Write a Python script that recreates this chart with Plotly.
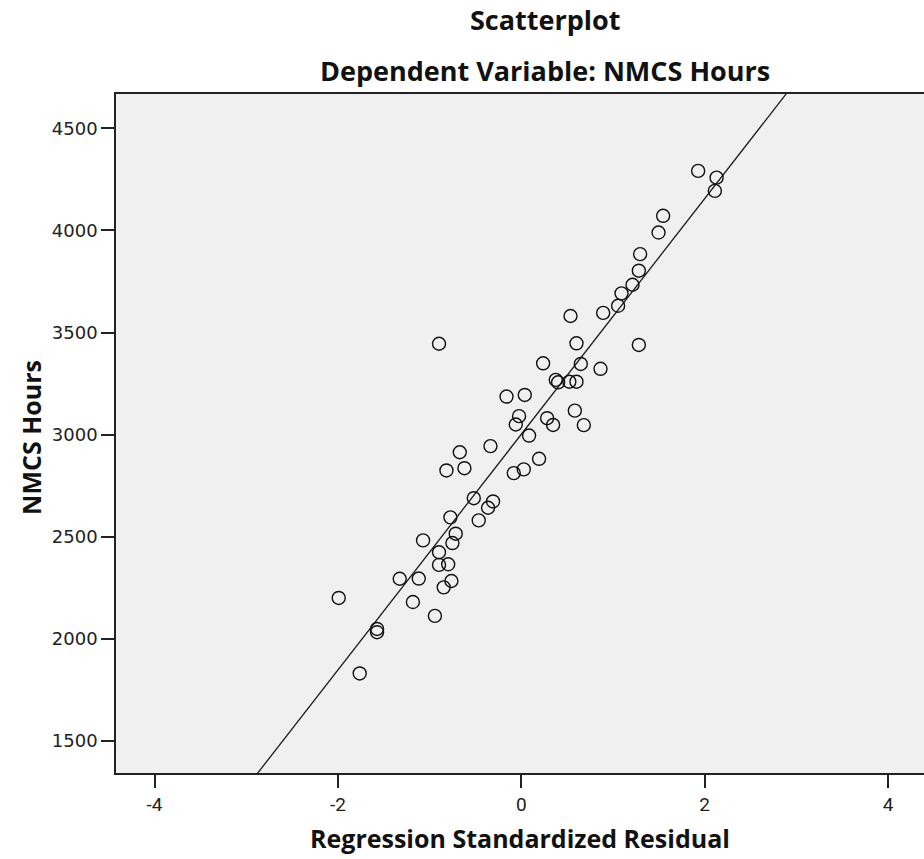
import plotly.graph_objects as go

# Regression standardized residual (x) and NMCS Hours (y)
std_residual = [
    1.929, 2.130, 2.111, 1.547, 1.497, 1.296, 1.282, 1.213, 1.093, 1.056,
    0.893, 0.537, -0.897, 0.602, 1.282, 0.238, 0.649, 0.864, 0.376, 0.402,
    0.524, 0.602, -0.161, 0.038, -0.024, -0.060, 0.282, 0.347, 0.584, 0.682,
    0.085, -0.336, -0.671, 0.194, -0.816, -0.620, -0.082, 0.027, -0.518, -0.308,
    -0.362, -0.773, -0.464, -1.071, -0.715, -0.751, -0.897, -0.897, -0.797, -1.326,
    -1.118, -0.762, -0.846, -1.991, -1.182, -0.942, -1.573, -1.573, -1.762,
]
nmcs_hours = [
    4292, 4259, 4194, 4072, 3990, 3884, 3803, 3734, 3692, 3631,
    3596, 3581, 3445, 3447, 3439, 3349, 3346, 3322, 3268, 3256,
    3259, 3259, 3186, 3194, 3090, 3049, 3080, 3047, 3117, 3046,
    2995, 2943, 2913, 2881, 2824, 2835, 2811, 2829, 2688, 2672,
    2641, 2594, 2579, 2481, 2514, 2468, 2423, 2361, 2364, 2293,
    2294, 2282, 2251, 2199, 2179, 2111, 2047, 2031, 1829,
]

# Fit line
fit_intercept = 3001.0
fit_slope = 577.6

x_range = [-4.42, 4.392]
y_range = [1341, 4669]
x_ticks = [-4, -2, 0, 2, 4]
y_ticks = [1500, 2000, 2500, 3000, 3500, 4000, 4500]

title_main = "Scatterplot"
title_sub = "Dependent Variable: NMCS Hours"
x_title = "Regression Standardized Residual"
y_title = "NMCS Hours"

fig = go.Figure()

line_x = [x_range[0] - 1, x_range[1] + 1]
line_y = [fit_intercept + fit_slope * v for v in line_x]
fig.add_trace(go.Scatter(
    x=line_x, y=line_y, mode="lines",
    line=dict(color="#1a1a1a", width=1.3),
    hoverinfo="skip", showlegend=False,
))

fig.add_trace(go.Scatter(
    x=std_residual, y=nmcs_hours, mode="markers",
    marker=dict(symbol="circle-open", size=13, color="#111111",
                line=dict(width=1.4, color="#111111")),
    showlegend=False,
))

bold_font = "Open Sans"

fig.update_layout(
    width=924, height=859,
    margin=dict(l=116, r=0, t=94, b=86),
    paper_bgcolor="white",
    plot_bgcolor="#f0f0f0",
    showlegend=False,
    xaxis=dict(
        range=x_range, tickvals=x_ticks, ticktext=[str(t) for t in x_ticks],
        showgrid=False, zeroline=False,
        showline=True, linecolor="#222222", linewidth=1.5, mirror=True,
        ticks="outside", ticklen=13, tickwidth=1.5, tickcolor="#222222",
        tickfont=dict(family="Liberation Sans Narrow, Roboto, sans-serif", size=19, color="#222222"),
    ),
    yaxis=dict(
        range=y_range, tickvals=y_ticks, ticktext=[str(t) for t in y_ticks],
        showgrid=False, zeroline=False,
        showline=True, linecolor="#222222", linewidth=1.5, mirror=False,
        ticks="outside", ticklen=13, tickwidth=1.5, tickcolor="#222222",
        tickfont=dict(family="DejaVu Sans", size=18, color="#222222"),
    ),
    annotations=[
        dict(text=f"<b>{title_main}</b>", xref="paper", yref="paper",
             x=0.531, y=1.109, xanchor="center", yanchor="middle", showarrow=False,
             font=dict(family=bold_font, size=27, color="#111111")),
        dict(text=f"<b>{title_sub}</b>", xref="paper", yref="paper",
             x=0.531, y=1.035, xanchor="center", yanchor="middle", showarrow=False,
             font=dict(family=bold_font, size=27, color="#111111")),
        dict(text=f"<b>{x_title}</b>", xref="paper", yref="paper",
             x=0.50, y=-0.0957, xanchor="center", yanchor="middle", showarrow=False,
             font=dict(family=bold_font, size=25, color="#111111")),
        dict(text=f"<b>{y_title}</b>", xref="paper", yref="paper",
             x=-0.106, y=0.494, xanchor="center", yanchor="middle", showarrow=False,
             textangle=-90,
             font=dict(family=bold_font, size=25, color="#111111")),
    ],
)

fig.write_html("out.html")
